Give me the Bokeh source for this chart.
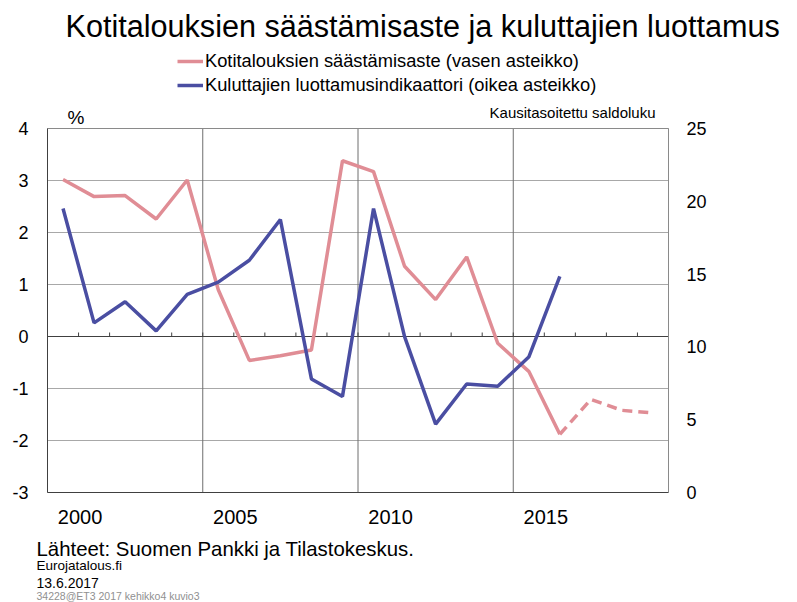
from bokeh.plotting import figure
from bokeh.models import Range1d, Label, Legend, LegendItem
from bokeh.core.properties import value
from bokeh.embed import file_html
from bokeh.resources import INLINE

# ---------------- data ----------------
years = list(range(2000, 2020))
saving_rate = [3.02, 2.69, 2.71, 2.26, 3.01, 0.90, -0.46, -0.37, -0.26, 3.38,
               3.17, 1.35, 0.71, 1.53, -0.13, -0.67, -1.88, -1.21, -1.42, -1.47]
forecast_from = 2016  # dashed part starts here
conf_years = list(range(2000, 2017))
confidence = [19.5, 11.65, 13.1, 11.1, 13.6, 14.45, 15.95, 18.75, 7.8, 6.6,
              19.5, 10.7, 4.7, 7.45, 7.3, 9.3, 14.85]
left_ticks = [-3, -2, -1, 0, 1, 2, 3, 4]
right_ticks = [0, 5, 10, 15, 20, 25]
label_years = [2000, 2005, 2010, 2015]
group_years = [2004.5, 2009.5, 2014.5]

PINK = "#e08d95"
BLUE = "#4a4ea2"
FONT = "Liberation Sans"

W, H = 790, 602
# plot box in page pixels
BL, BT, BR, BB = 47, 128, 668, 492
XMIN, XMAX = years[0] - 0.5, years[-1] + 0.5
LMIN, LMAX = left_ticks[0], left_ticks[-1]
RMIN, RMAX = right_ticks[0], right_ticks[-1]

xs = (XMAX - XMIN) / (BR - BL)      # data per px
ls = (LMAX - LMIN) / (BB - BT)
rs = (RMAX - RMIN) / (BB - BT)

def X(px):
    return XMIN + (px - BL) * xs

def Y(py):
    return LMAX - (py - BT) * ls

p = figure(width=W, height=H, output_backend="svg", toolbar_location=None,
           x_axis_location=None, y_axis_location=None,
           x_range=Range1d(X(0), X(W)), y_range=Range1d(Y(H), Y(0)),
           min_border=0, min_border_left=0, min_border_right=0,
           min_border_top=0, min_border_bottom=0)
p.extra_y_ranges = {"right": Range1d(RMAX - (H - BT) * rs, RMAX + BT * rs)}
p.outline_line_color = None
p.grid.visible = False
p.background_fill_color = "white"
p.border_fill_color = "white"

# gridlines
p.segment(x0=[XMIN] * len(left_ticks), y0=left_ticks, x1=[XMAX] * len(left_ticks), y1=left_ticks,
          line_color="#a8a8a8", line_width=1)
p.segment(x0=group_years, y0=[LMIN] * 3, x1=group_years, y1=[LMAX] * 3,
          line_color="#6e6e6e", line_width=1)
# zero line with category ticks
p.segment(x0=[XMIN], y0=[0], x1=[XMAX], y1=[0], line_color="#404040", line_width=1)
bounds = [y + 0.5 for y in years[:-1]]
p.segment(x0=bounds, y0=[0] * len(bounds), x1=bounds, y1=[4 * ls] * len(bounds),
          line_color="#404040", line_width=1)
# plot box
p.segment(x0=[XMIN, XMIN, XMIN, XMAX], y0=[LMIN, LMAX, LMIN, LMIN],
          x1=[XMAX, XMAX, XMIN, XMAX], y1=[LMIN, LMAX, LMAX, LMAX],
          line_color=["#404040", "#8a8a8a", "#404040", "#8a8a8a"], line_width=1)

# series
k = years.index(forecast_from)
r_pink = p.line(years[:k + 1], saving_rate[:k + 1], line_color=PINK, line_width=3.5)
p.line(years[k:], saving_rate[k:], line_color=PINK, line_width=3.5, line_dash="10 6")
r_blue = p.line(conf_years, confidence, line_color=BLUE, line_width=3.5, y_range_name="right")

# axis labels
p.text(x=[X(BL - 19)] * len(left_ticks), y=left_ticks, text=[str(t) for t in left_ticks],
       text_font=value(FONT), text_font_size="18px", text_align="right",
       text_baseline="middle", text_color="black")
p.text(x=[X(BR + 18)] * len(right_ticks), y=right_ticks, text=[str(t) for t in right_ticks],
       text_font=value(FONT), text_font_size="18px", text_align="left",
       text_baseline="middle", text_color="black", y_range_name="right")
p.text(x=[y + 0.55 for y in label_years], y=[Y(516)] * len(label_years),
       text=[str(y) for y in label_years],
       text_font=value(FONT), text_font_size="20px", text_align="center",
       text_baseline="middle", text_color="black")

# legend
legend = Legend(items=[LegendItem(label="Kotitalouksien säästämisaste (vasen asteikko)", renderers=[r_pink]),
                       LegendItem(label="Kuluttajien luottamusindikaattori (oikea asteikko)", renderers=[r_blue])],
                location=(177, H - 97), orientation="vertical",
                glyph_width=26, glyph_height=24, label_height=24, label_standoff=2,
                spacing=0, padding=0, margin=0, border_line_color=None,
                background_fill_alpha=0,
                label_text_font=FONT, label_text_font_size="18.3px", label_text_color="black")
p.add_layout(legend, "center")

def lab(text, px, py, size, align="left", color="black"):
    p.add_layout(Label(x=X(px), y=Y(py), text=text, text_font=FONT, text_font_size=size,
                       text_color=color, text_align=align, text_baseline="middle"))

lab("Kotitalouksien säästämisaste ja kuluttajien luottamus", 65, 25, "30.6px")
lab("%", 67, 117, "19px")
lab("Kausitasoitettu saldoluku", 655, 112, "15px", align="right")
lab("Lähteet: Suomen Pankki ja Tilastokeskus.", 36, 548, "20.4px")
lab("Eurojatalous.fi", 36, 565, "13.5px")
lab("13.6.2017", 36, 582, "14px")
lab("34228@ET3  2017  kehikko4  kuvio3", 36, 595, "10.5px", color="#909090")

open("out.html", "w").write(file_html(p, INLINE))
